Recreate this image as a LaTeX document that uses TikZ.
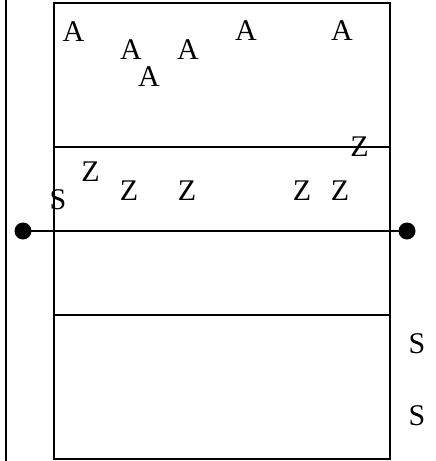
\documentclass[tikz,border=0pt]{standalone}
\usepackage{fontspec}
\setmainfont{Liberation Serif}
\begin{document}
\begin{tikzpicture}[x=1pt,y=-1pt,
  line/.style={line width=1.4pt,black},
  lbl/.style={inner sep=0pt,font=\fontsize{30}{30}\selectfont},
  dot/.style={circle,fill=black,inner sep=0pt,minimum size=17pt}]
\useasboundingbox (0,0) rectangle (436,461);
% left vertical line
\coordinate (lt) at (6,0);
\coordinate (lb) at (6,461);
\draw[line] (lt) -- (lb);
% court
\coordinate (c1) at (54,3);
\coordinate (c2) at (390,459);
\draw[line] (c1) rectangle (c2);
\coordinate (m1l) at (54,147);
\coordinate (m1r) at (390,147);
\draw[line] (m1l) -- (m1r);
\coordinate (m2l) at (54,315);
\coordinate (m2r) at (390,315);
\draw[line] (m2l) -- (m2r);
% net
\node[dot] (pl) at (23,231) {};
\node[dot] (pr) at (407,231) {};
\draw[line] (pl.center) -- (pr.center);
% labels
\node[lbl] (a1) at (73.5,32) {A};
\node[lbl] (a2) at (131,50) {A};
\node[lbl] (a3) at (149,77) {A};
\node[lbl] (a4) at (188,50) {A};
\node[lbl] (a5) at (246,31) {A};
\node[lbl] (a6) at (342,31) {A};
\node[lbl] (z0) at (359.6,147) {Z};
\node[lbl] (z1) at (90.5,172) {Z};
\node[lbl] (z2) at (129,191) {Z};
\node[lbl] (z3) at (187,191) {Z};
\node[lbl] (z4) at (302,191) {Z};
\node[lbl] (z5) at (340,191) {Z};
\node[lbl] (s0) at (58,200) {S};
\node[lbl] (s1) at (417,344) {S};
\node[lbl] (s2) at (417,416) {S};
\end{tikzpicture}
\end{document}
